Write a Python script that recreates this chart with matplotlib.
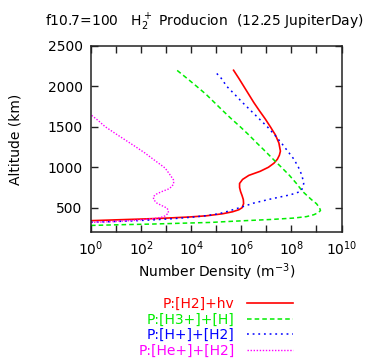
import numpy as np
import matplotlib
matplotlib.use("Agg")
import matplotlib.pyplot as plt
from matplotlib.ticker import FixedLocator, FuncFormatter

plt.rcParams["font.family"] = ["DejaVu Sans"]
plt.rcParams["mathtext.fontset"] = "dejavusans"

# ---- data (altitude in km, log10 of number density in m^-3) ----
alt_h2_hv = [340, 350, 360, 370, 385, 400, 425, 450, 475, 500, 550, 600, 650, 700,
             750, 800, 850, 900, 950, 1000, 1050, 1100, 1150, 1200, 1300, 1400,
             1500, 1600, 1700, 1800, 1900, 2000, 2100, 2200]
log_h2_hv = [0.0, 1.0, 2.0, 2.9, 3.9, 4.6, 5.25, 5.65, 5.9, 6.03, 6.09, 6.08, 6.03, 5.97,
             5.93, 5.93, 6.05, 6.3, 6.75, 7.08, 7.3, 7.44, 7.52, 7.56, 7.5, 7.36,
             7.16, 6.95, 6.72, 6.5, 6.3, 6.1, 5.9, 5.69]

alt_h3_h = [281, 290, 298, 310, 318, 330, 339, 355, 372, 390, 413, 440, 466, 500, 550,
            600, 700, 800, 900, 1000, 1100, 1200, 1300, 1400, 1500, 1600, 1700, 1800,
            1900, 2000, 2100, 2200]
log_h3_h = [0.0, 1.2, 2.43, 3.8, 4.76, 5.5, 6.09, 7.2, 8.09, 8.6, 8.89, 9.08, 9.16, 9.12,
            9.0, 8.8, 8.45, 8.2, 7.92, 7.6, 7.27, 6.95, 6.62, 6.3, 5.96, 5.6, 5.26, 4.93,
            4.6, 4.22, 3.83, 3.43]

alt_hp_h2 = [320, 335, 350, 365, 385, 400, 425, 453, 503, 557, 607, 660, 700, 750, 800,
             900, 1000, 1100, 1200, 1300, 1400, 1500, 1600, 1700, 1800, 1900, 2000,
             2100, 2180]
log_hp_h2 = [0.0, 1.5, 2.5, 3.3, 4.1, 4.55, 5.1, 5.43, 5.96, 6.49, 7.16, 7.96, 8.36, 8.46,
             8.49, 8.42, 8.28, 8.1, 7.85, 7.6, 7.33, 7.04, 6.71, 6.38, 6.05, 5.74, 5.42,
             5.2, 4.96]

alt_hep_h2 = [318, 330, 345, 365, 385, 400, 434, 470, 496, 530, 557, 600, 639, 670, 700,
              730, 762, 800, 845, 900, 990, 1100, 1175, 1250, 1339, 1420, 1503, 1580, 1648]
log_hep_h2 = [0.0, 1.0, 1.8, 2.5, 2.85, 2.96, 3.09, 3.08, 3.03, 2.8, 2.63, 2.5, 2.49, 2.62,
              2.83, 3.08, 3.23, 3.3, 3.29, 3.17, 2.96, 2.48, 2.16, 1.8, 1.36, 0.96, 0.56,
              0.28, 0.0]

labels = ["P:[H2]+hv", "P:[H3+]+[H]", "P:[H+]+[H2]", "P:[He+]+[H2]"]
colors = ["#ff0000", "#00ee00", "#0000ff", "#ff00ff"]

fs = 10

fig = plt.figure(figsize=(3.67, 3.6), dpi=100)
ax = fig.add_axes([0.248, 0.3556, 0.6826, 0.5167])

ax.plot(10 ** np.array(log_h2_hv), alt_h2_hv, color=colors[0], lw=1.2, ls="-",
        label=labels[0])
ax.plot(10 ** np.array(log_h3_h), alt_h3_h, color=colors[1], lw=1.1, ls=(0, (3, 2)),
        label=labels[1])
ax.plot(10 ** np.array(log_hp_h2), alt_hp_h2, color=colors[2], lw=1.1, ls=(0, (1.2, 2.5)),
        label=labels[2])
ax.plot(10 ** np.array(log_hep_h2), alt_hep_h2, color=colors[3], lw=1.0, ls=(0, (1, 1.2)),
        label=labels[3])

ax.set_xscale("log")
ax.set_xlim(1, 1e10)
ax.set_ylim(200, 2500)

ax.xaxis.set_major_locator(FixedLocator([10.0 ** k for k in range(0, 11, 2)]))
ax.xaxis.set_minor_locator(FixedLocator([10.0 ** k for k in range(1, 10, 2)]))
ax.xaxis.set_major_formatter(FuncFormatter(lambda v, p: r"10$^{%d}$" % round(np.log10(v))))
ax.xaxis.set_minor_formatter(FuncFormatter(lambda v, p: ""))
ax.set_yticks([500, 1000, 1500, 2000, 2500])

ax.tick_params(which="both", direction="in", length=5, width=1.0, top=True, right=True,
               labelsize=fs, color="#222222")
ax.tick_params(axis="y", pad=6)
ax.tick_params(axis="x", pad=5)
for s in ax.spines.values():
    s.set_linewidth(1.1)
    s.set_color("#222222")

ax.set_xlabel(r"Number Density (m$^{-3}$)", fontsize=fs)
ax.set_ylabel("Altitude (km)", fontsize=fs)
ax.xaxis.set_label_coords(0.5, -0.16)
ax.yaxis.set_label_coords(-0.275, 0.5)

# title runs almost to the right edge, as in the original
fig.text(45 / 367, 0.939, r"f10.7=100   H$_2^+$ Producion  (12.25 JupiterDay)",
         fontsize=fs, ha="left", va="center")

leg = ax.legend(loc="upper right", bbox_to_anchor=(293 / 367, (360 - 297) / 360),
                bbox_transform=fig.transFigure, frameon=False, markerfirst=False,
                labelcolor="linecolor", fontsize=fs, handlelength=3.3,
                handletextpad=0.9, labelspacing=0.12, borderpad=0, borderaxespad=0)

fig.savefig("out.png", dpi=100)
